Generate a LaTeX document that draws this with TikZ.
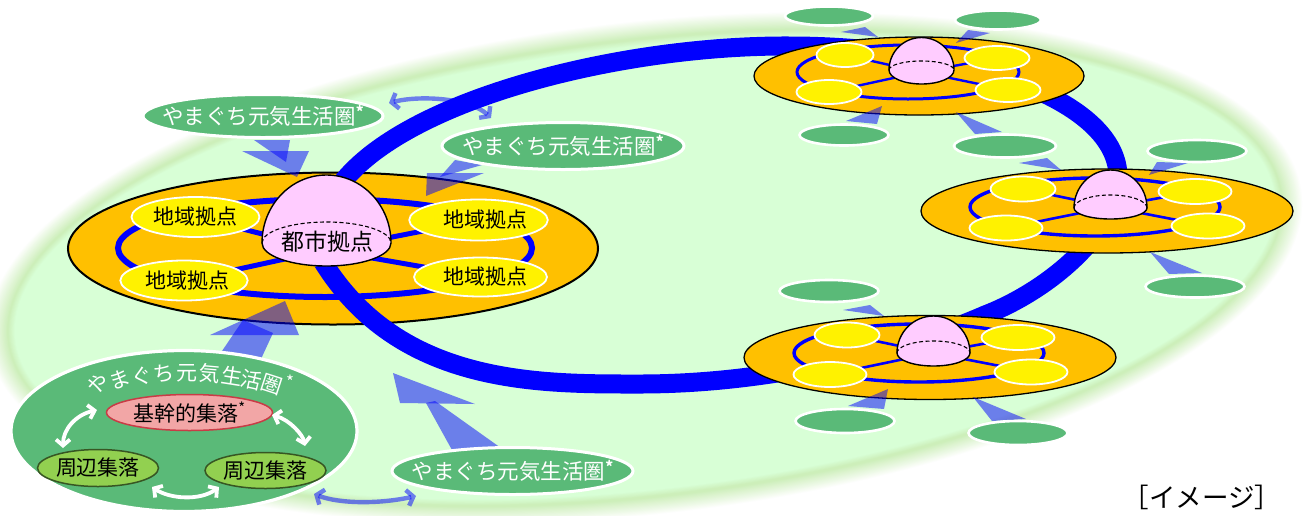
\documentclass[tikz,border=0pt]{standalone}
\usepackage{fontspec}
\setmainfont{Noto Sans CJK JP}
\usetikzlibrary{shapes.geometric,arrows.meta}
\definecolor{bgin}{HTML}{D8FFD6}
\definecolor{bgedge}{HTML}{CDEFBA}
\definecolor{disc}{HTML}{FFC000}
\definecolor{dome}{HTML}{FFCCFF}
\definecolor{leaf}{HTML}{5ABA78}
\definecolor{corefill}{HTML}{F2A6A6}
\definecolor{coreline}{HTML}{C83C46}
\definecolor{outerfill}{HTML}{92D050}
\definecolor{outerline}{HTML}{375623}
\newcommand{\fs}[1]{\fontsize{#1}{#1}\selectfont}
\newcommand{\starmark}{\raisebox{7pt}{\fs{15}\textbf{*}}}
\newcommand{\domeshape}[6]{% xl xr top rim bottom dashtop
  \pgfmathsetmacro{\xm}{(#1+#2)/2}
  \pgfmathsetmacro{\kx}{0.5523*(#2-#1)/2}
  \pgfmathsetmacro{\ka}{0.5523*(#4-#3)}
  \pgfmathsetmacro{\kb}{0.5523*(#5-#4)}
  \pgfmathsetmacro{\kc}{0.5523*(#4-#6)}
  \draw[domestyle] (#1,#4) .. controls (#1,#4-\ka) and (\xm-\kx,#3) .. (\xm,#3)
     .. controls (\xm+\kx,#3) and (#2,#4-\ka) .. (#2,#4)
     .. controls (#2,#4+\kb) and (\xm+\kx,#5) .. (\xm,#5)
     .. controls (\xm-\kx,#5) and (#1,#4+\kb) .. (#1,#4) -- cycle;
  \draw[black,line width=1.1,dash pattern=on 4pt off 2.5pt] (#1,#4) .. controls (#1,#4-\kc) and (\xm-\kx,#6) .. (\xm,#6)
     .. controls (\xm+\kx,#6) and (#2,#4-\kc) .. (#2,#4);
}
\tikzset{
  discstyle/.style={fill=disc,draw=black},
  domestyle/.style={fill=dome,draw=black,line width=1.4},
  yel/.style={ellipse,fill=yellow,draw=white,inner sep=0pt,line width=1.8pt,text=black,font=\fs{21}},
  leafnode/.style={ellipse,fill=leaf,draw=white,inner xsep=-30pt,inner ysep=-6pt,line width=3pt,text=white},
  flow/.style={fill=blue,fill opacity=.5,draw=none},
  swap/.style={draw=blue,draw opacity=.5,line width=4.4pt,{Straight Barb[length=6pt,width=16pt]}-{Straight Barb[length=6pt,width=16pt]}},
  whitearrow/.style={draw=white,line width=3.8pt,{Straight Barb[length=6pt,width=14pt]}-{Straight Barb[length=6pt,width=14pt]}},
  hubline/.style={draw=blue,line width=#1},
  village/.style={ellipse,fill=outerfill,draw=outerline,line width=1.5pt,inner sep=0pt,font=\fs{21}},
}
\begin{document}
\begin{tikzpicture}[x=1pt,y=-1pt]
\useasboundingbox (0,0) rectangle (1307,515);
% soft background
\foreach \k in {0,...,16}{
  \pgfmathsetmacro{\mx}{\k*6.25}
  \colorlet{cc}{bgedge!\mx!white}
  \fill[cc,rotate around={6.5:(645,268)}] (645,268) ellipse [x radius=662-\k*1.3, y radius=247-\k*1.1];
}
\foreach \k in {0,...,8}{
  \pgfmathsetmacro{\mx}{\k*12.5}
  \colorlet{cc}{bgin!\mx!bgedge}
  \fill[cc,rotate around={6.5:(645,268)}] (645,268) ellipse [x radius=641-\k*.9, y radius=228-\k*.8];
}
% left cluster
\draw[discstyle,line width=2pt] (333,248.5) ellipse [x radius=265, y radius=76];
\draw[hubline=6pt] (325,248) ellipse [x radius=207, y radius=49];
\coordinate (hubL) at (326,250);
\coordinate (a1) at (195,217);
\coordinate (a2) at (479,220);
\coordinate (a3) at (184,281);
\coordinate (a4) at (481,277);
\foreach \t in {a1,a2,a3,a4} \draw[hubline=5pt] (hubL) -- (\t);
% main loop
\draw[blue,line width=19pt] (323,262) .. controls (400,386) and (540,384) .. (640,384)
   .. controls (770,384) and (900,352) .. (985,315)
   .. controls (1050,290) and (1120,230) .. (1118,175)
   .. controls (1115,95) and (950,46) .. (790,46)
   .. controls (620,45) and (400,100) .. (338,188);
\node[yel,minimum width=128pt,minimum height=40pt] (al1) at (195.5,217) {地域拠点};
\node[yel,minimum width=128pt,minimum height=41pt] (al2) at (478.5,220) {\hspace{14pt}地域拠点};
\node[yel,minimum width=127pt,minimum height=40pt] (al3) at (184,280.5) {\hspace{6pt}地域拠点};
\node[yel,minimum width=128pt,minimum height=39pt] (al4) at (480.5,277) {\hspace{10pt}地域拠点};
\domeshape{262}{391}{175}{243}{266}{222}
\node[text=black,font=\fs{23}] (cityL) at (327,242) {都市拠点};
% top right cluster
\draw[discstyle,line width=1.3pt] (919,76) ellipse [x radius=165, y radius=39];
\draw[hubline=3pt] (908,72) ellipse [x radius=111, y radius=27];
\coordinate (h1) at (921,72);
\coordinate (b1) at (845,55);
\coordinate (b2) at (997,58);
\coordinate (b3) at (829,92);
\coordinate (b4) at (1008,90);
\foreach \t in {b1,b2,b3,b4} \draw[hubline=2.4pt] (h1) -- (\t);
\node[yel,minimum width=57pt,minimum height=24pt] (bl1) at (845,55) {};
\node[yel,minimum width=65pt,minimum height=24pt] (bl2) at (997,58) {};
\node[yel,minimum width=65pt,minimum height=24pt] (bl3) at (829,92) {};
\node[yel,minimum width=65pt,minimum height=24pt] (bl4) at (1008,90) {};
\domeshape{889}{954}{37.5}{70}{84}{61}
% right cluster
\draw[discstyle,line width=1.3pt] (1107,211) ellipse [x radius=186, y radius=42];
\draw[hubline=3.4pt] (1095,207) ellipse [x radius=125, y radius=29];
\coordinate (h2) at (1110,207);
\coordinate (c1) at (1023,189);
\coordinate (c2) at (1195,191.5);
\coordinate (c3) at (1006,228);
\coordinate (c4) at (1208,226);
\foreach \t in {c1,c2,c3,c4} \draw[hubline=2.6pt] (h2) -- (\t);
\node[yel,minimum width=65pt,minimum height=25pt] (cl1) at (1023,189) {};
\node[yel,minimum width=73pt,minimum height=25pt] (cl2) at (1195,191.5) {};
\node[yel,minimum width=73pt,minimum height=25pt] (cl3) at (1006,228) {};
\node[yel,minimum width=73pt,minimum height=25pt] (cl4) at (1208,226) {};
\domeshape{1074}{1147}{170}{208}{219}{195}
% bottom right cluster
\draw[discstyle,line width=1.3pt] (930,357.5) ellipse [x radius=186, y radius=42];
\draw[hubline=3.4pt] (919,353) ellipse [x radius=125, y radius=29];
\coordinate (h3) at (933,353);
\coordinate (d1) at (847,335);
\coordinate (d2) at (1018,337.5);
\coordinate (d3) at (830,374.5);
\coordinate (d4) at (1031,372);
\foreach \t in {d1,d2,d3,d4} \draw[hubline=2.6pt] (h3) -- (\t);
\node[yel,minimum width=65pt,minimum height=25pt] (dl1) at (847,335) {};
\node[yel,minimum width=73pt,minimum height=25pt] (dl2) at (1018,337.5) {};
\node[yel,minimum width=73pt,minimum height=25pt] (dl3) at (830,374.5) {};
\node[yel,minimum width=73pt,minimum height=25pt] (dl4) at (1031,372) {};
\domeshape{897}{970}{316}{353}{366}{341}
% large flow arrows
\fill[flow] (254,140) -- (290,140) -- (286,162) -- cycle;
\fill[flow] (242,151) -- (309,151) -- (297,177) -- cycle;
\fill[flow] (455,160) -- (482,165) -- (440,177) -- cycle;
\fill[flow] (427,173) -- (484,173) -- (426,196) -- cycle;
\fill[flow] (220,354) -- (261,359) -- (273,333) -- (243,320) -- cycle;
\fill[flow] (210,335) -- (299,335) -- (285,301) -- cycle;
\fill[flow] (452,450) -- (501,448) -- (435,401) -- (426,403) -- cycle;
\fill[flow] (393,373) -- (475,404) -- (400,403) -- cycle;
% small flow arrows
\fill[flow] (841,32) -- (865,27) -- (878,37) -- cycle;
\fill[flow] (990,33) -- (968,30) -- (956,43) -- cycle;
\fill[flow] (846,121) -- (882,106) -- (877,124) -- cycle;
\fill[flow] (956,112) -- (1002,132) -- (975,134) -- cycle;
\fill[flow] (1019,163) -- (1047,158) -- (1061,170) -- cycle;
\fill[flow] (1188,163) -- (1157,162) -- (1149,175) -- cycle;
\fill[flow] (1150,252) -- (1202,273) -- (1169,274) -- cycle;
\fill[flow] (843,310) -- (870,305) -- (884,316) -- cycle;
\fill[flow] (848,406) -- (888,389) -- (884,409) -- cycle;
\fill[flow] (973,397) -- (1026,419) -- (992,421) -- cycle;
% labelled and empty leaf ellipses
\node[leafnode,minimum width=240pt,minimum height=43pt,font=\fs{21.5}] (e1) at (263,116) {やまぐち元気生活圏\starmark};
\node[leafnode,minimum width=242pt,minimum height=47pt,font=\fs{21.5}] (e2) at (563,146) {やまぐち元気生活圏\starmark};
\node[leafnode,minimum width=241pt,minimum height=47pt,font=\fs{21.5}] (e3) at (512.5,471) {やまぐち元気生活圏\starmark};
\coordinate (sw1) at (389,103);
\coordinate (sw2) at (491,118);
\coordinate (sw3) at (314,494);
\coordinate (sw4) at (416,496);
\draw[swap] (sw1) .. controls (420,95) and (470,98) .. (sw2);
\draw[swap] (sw3) .. controls (340,504) and (380,504) .. (sw4);
\foreach \n/\x/\y/\w/\h in {g1/829/16/88/19,g2/998/20/86/19,g3/844/135/89/21,g4/1005/146/102/23,g5/1197/151/99/22,g6/1195/286.5/99/22,g7/829/291/99/22,g8/845/421/99/24,g9/1018/433/99/24}
  \node[leafnode,line width=2.6pt,minimum width=\w pt,minimum height=\h pt] (\n) at (\x,\y) {};
% settlement bubble
\node[leafnode,line width=3.2pt,minimum width=346pt,minimum height=161pt] (bubble) at (184,431) {};
\foreach \c/\x/\y/\r [count=\i] in {や/98/384/24,ま/120/380/20,ぐ/142/376/14,ち/164/374/8,元/187/373/0,気/210/374/-5,生/232/376/-9,活/252/380/-13,圏/272/385/-18}
  \node[text=white,font=\fs{21},rotate=\r,inner sep=0pt] (arc\i) at (\x,\y) {\c};
\node[text=white,font=\fs{17},inner sep=0pt] (arcstar) at (290,382) {*};
\node[ellipse,fill=corefill,draw=coreline,line width=1.5pt,inner sep=0pt,minimum width=166pt,minimum height=36pt,font=\fs{21}] (core) at (189.5,412.5) {基幹的集落\textsuperscript{*}};
\node[village,minimum width=121pt,minimum height=37pt] (s1) at (98,468) {周辺集落};
\node[village,minimum width=121pt,minimum height=36pt] (s2) at (265.5,470.5) {周辺集落};
\coordinate (wa) at (97,410);
\coordinate (wb) at (63,448);
\coordinate (wc) at (272,415);
\coordinate (wd) at (305,446);
\coordinate (we) at (152,487);
\coordinate (wf) at (219,487);
\draw[whitearrow] (wa) .. controls (75,415) and (63,430) .. (wb);
\draw[whitearrow] (wc) .. controls (290,420) and (303,435) .. (wd);
\draw[whitearrow] (we) .. controls (170,499) and (200,501) .. (wf);
\node[text=black,font=\fs{26.5},inner sep=0pt] (imagelabel) at (1202,497) {［イメージ］};
\end{tikzpicture}
\end{document}
